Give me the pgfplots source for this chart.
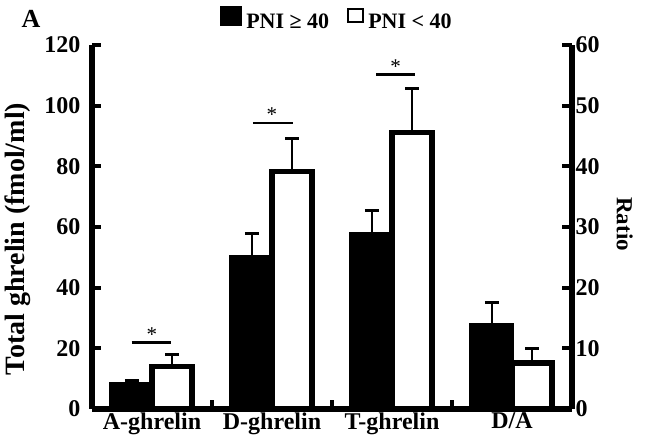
\documentclass[border=0pt]{standalone}
\usepackage{fontspec}
\setmainfont{Liberation Serif}
\usepackage{pgfplots}
\pgfplotsset{compat=1.18}

\pgfplotsset{
  ghrbar/.style={ybar, bar width=0.333, bar shift=0pt, draw=black,
    error bars/y dir=plus, error bars/y explicit,
    error bars/error bar style={line width=2.5pt, black},
    error bars/error mark options={rotate=90, mark size=7pt, line width=3pt, black}},
  ghraxis/.style={width=480pt, height=364pt, scale only axis,
    xmin=-0.5, xmax=3.5, ymin=0, clip=false,
    axis line style={line width=5.5pt, -},
    tick align=inside,
    tick style={line width=4pt, black},
    /pgf/number format/assume math mode=true,
    ticklabel style={font=\fontsize{24}{27}\selectfont\bfseries}},
}

\begin{document}
\begin{tikzpicture}
\useasboundingbox (-92pt,-35pt) rectangle (554pt,409pt);

\begin{axis}[ghraxis, ymax=120,
  axis y line*=left, axis x line*=bottom,
  ytick={0,20,...,120}, major tick length=9pt,
  yticklabel style={xshift=-8pt},
  xtick={0.5,1.5,2.5}, xticklabels={},
  extra x ticks={0,1,2,3},
  extra x tick labels={A-ghrelin,D-ghrelin,T-ghrelin,D/A},
  extra x tick style={tick style={draw=none}},
  ylabel={Total ghrelin (fmol/ml)},
  ylabel style={font=\fontsize{28}{30}\selectfont\bfseries,
    at={(axis description cs:-0.154,0.467)}, anchor=center},
  legend columns=2,
  legend style={at={(0.5,1)}, anchor=center, yshift=26pt, xshift=5pt,
    draw=none, fill=none, font=\fontsize{22}{24}\selectfont\bfseries,
    /tikz/every odd column/.append style={column sep=2pt},
    /tikz/every even column/.append style={column sep=16pt}},
]
% PNI >= 40 (bars sit left of each category centre)
\addplot[ghrbar, fill=black, line width=5pt,
  legend image code/.code={\fill[black] (0pt,-1pt) rectangle (17pt,14pt);}]
  coordinates {(-0.167,8.0) +- (0,1.5) (0.833,50.0) +- (0,7.7) (1.833,57.5) +- (0,7.8)};
\addlegendentry{PNI ≥ 40}
% PNI < 40 (bars sit right of each category centre)
\addplot[ghrbar, fill=white, line width=5.5pt,
  legend image code/.code={\draw[black, line width=1.8pt, fill=white] (0.9pt,-0.1pt) rectangle (16.1pt,13.1pt);}]
  coordinates {(0.167,14.0) +- (0,4.1) (1.167,78.3) +- (0,11.0) (2.167,91.2) +- (0,14.6)};
\addlegendentry{PNI < 40}

% significance marks
\addplot[black, line width=2.8pt, forget plot] coordinates {(-0.17,21.8) (0.16,21.8)};
\addplot[black, line width=2.8pt, forget plot] coordinates {(0.84,94.3) (1.175,94.3)};
\addplot[black, line width=2.8pt, forget plot] coordinates {(1.867,110.4) (2.19,110.4)};
\node[anchor=base, font=\fontsize{21}{22}\selectfont, yshift=1pt] at (axis cs:0,21.8) {*};
\node[anchor=base, font=\fontsize{21}{22}\selectfont, yshift=1pt] at (axis cs:1.0,94.3) {*};
\node[anchor=base, font=\fontsize{21}{22}\selectfont, yshift=1pt] at (axis cs:2.03,110.4) {*};
\end{axis}

\begin{axis}[ghraxis, ymax=60,
  axis y line*=right, axis x line=none,
  ytick={0,10,...,60}, major tick length=10pt,
  ylabel={Ratio},
  ylabel style={font=\fontsize{23}{25}\selectfont\bfseries,
    at={(axis description cs:1.110,0.508)}, anchor=center, rotate=180},
]
\addplot[ghrbar, fill=black, line width=5pt]
  coordinates {(2.833,13.8) +- (0,3.7)};
\addplot[ghrbar, fill=white, line width=5.5pt]
  coordinates {(3.167,7.6) +- (0,2.3)};
\end{axis}

\node[font=\fontsize{26}{28}\selectfont\bfseries] at (-61pt,390pt) {A};
\end{tikzpicture}
\end{document}
